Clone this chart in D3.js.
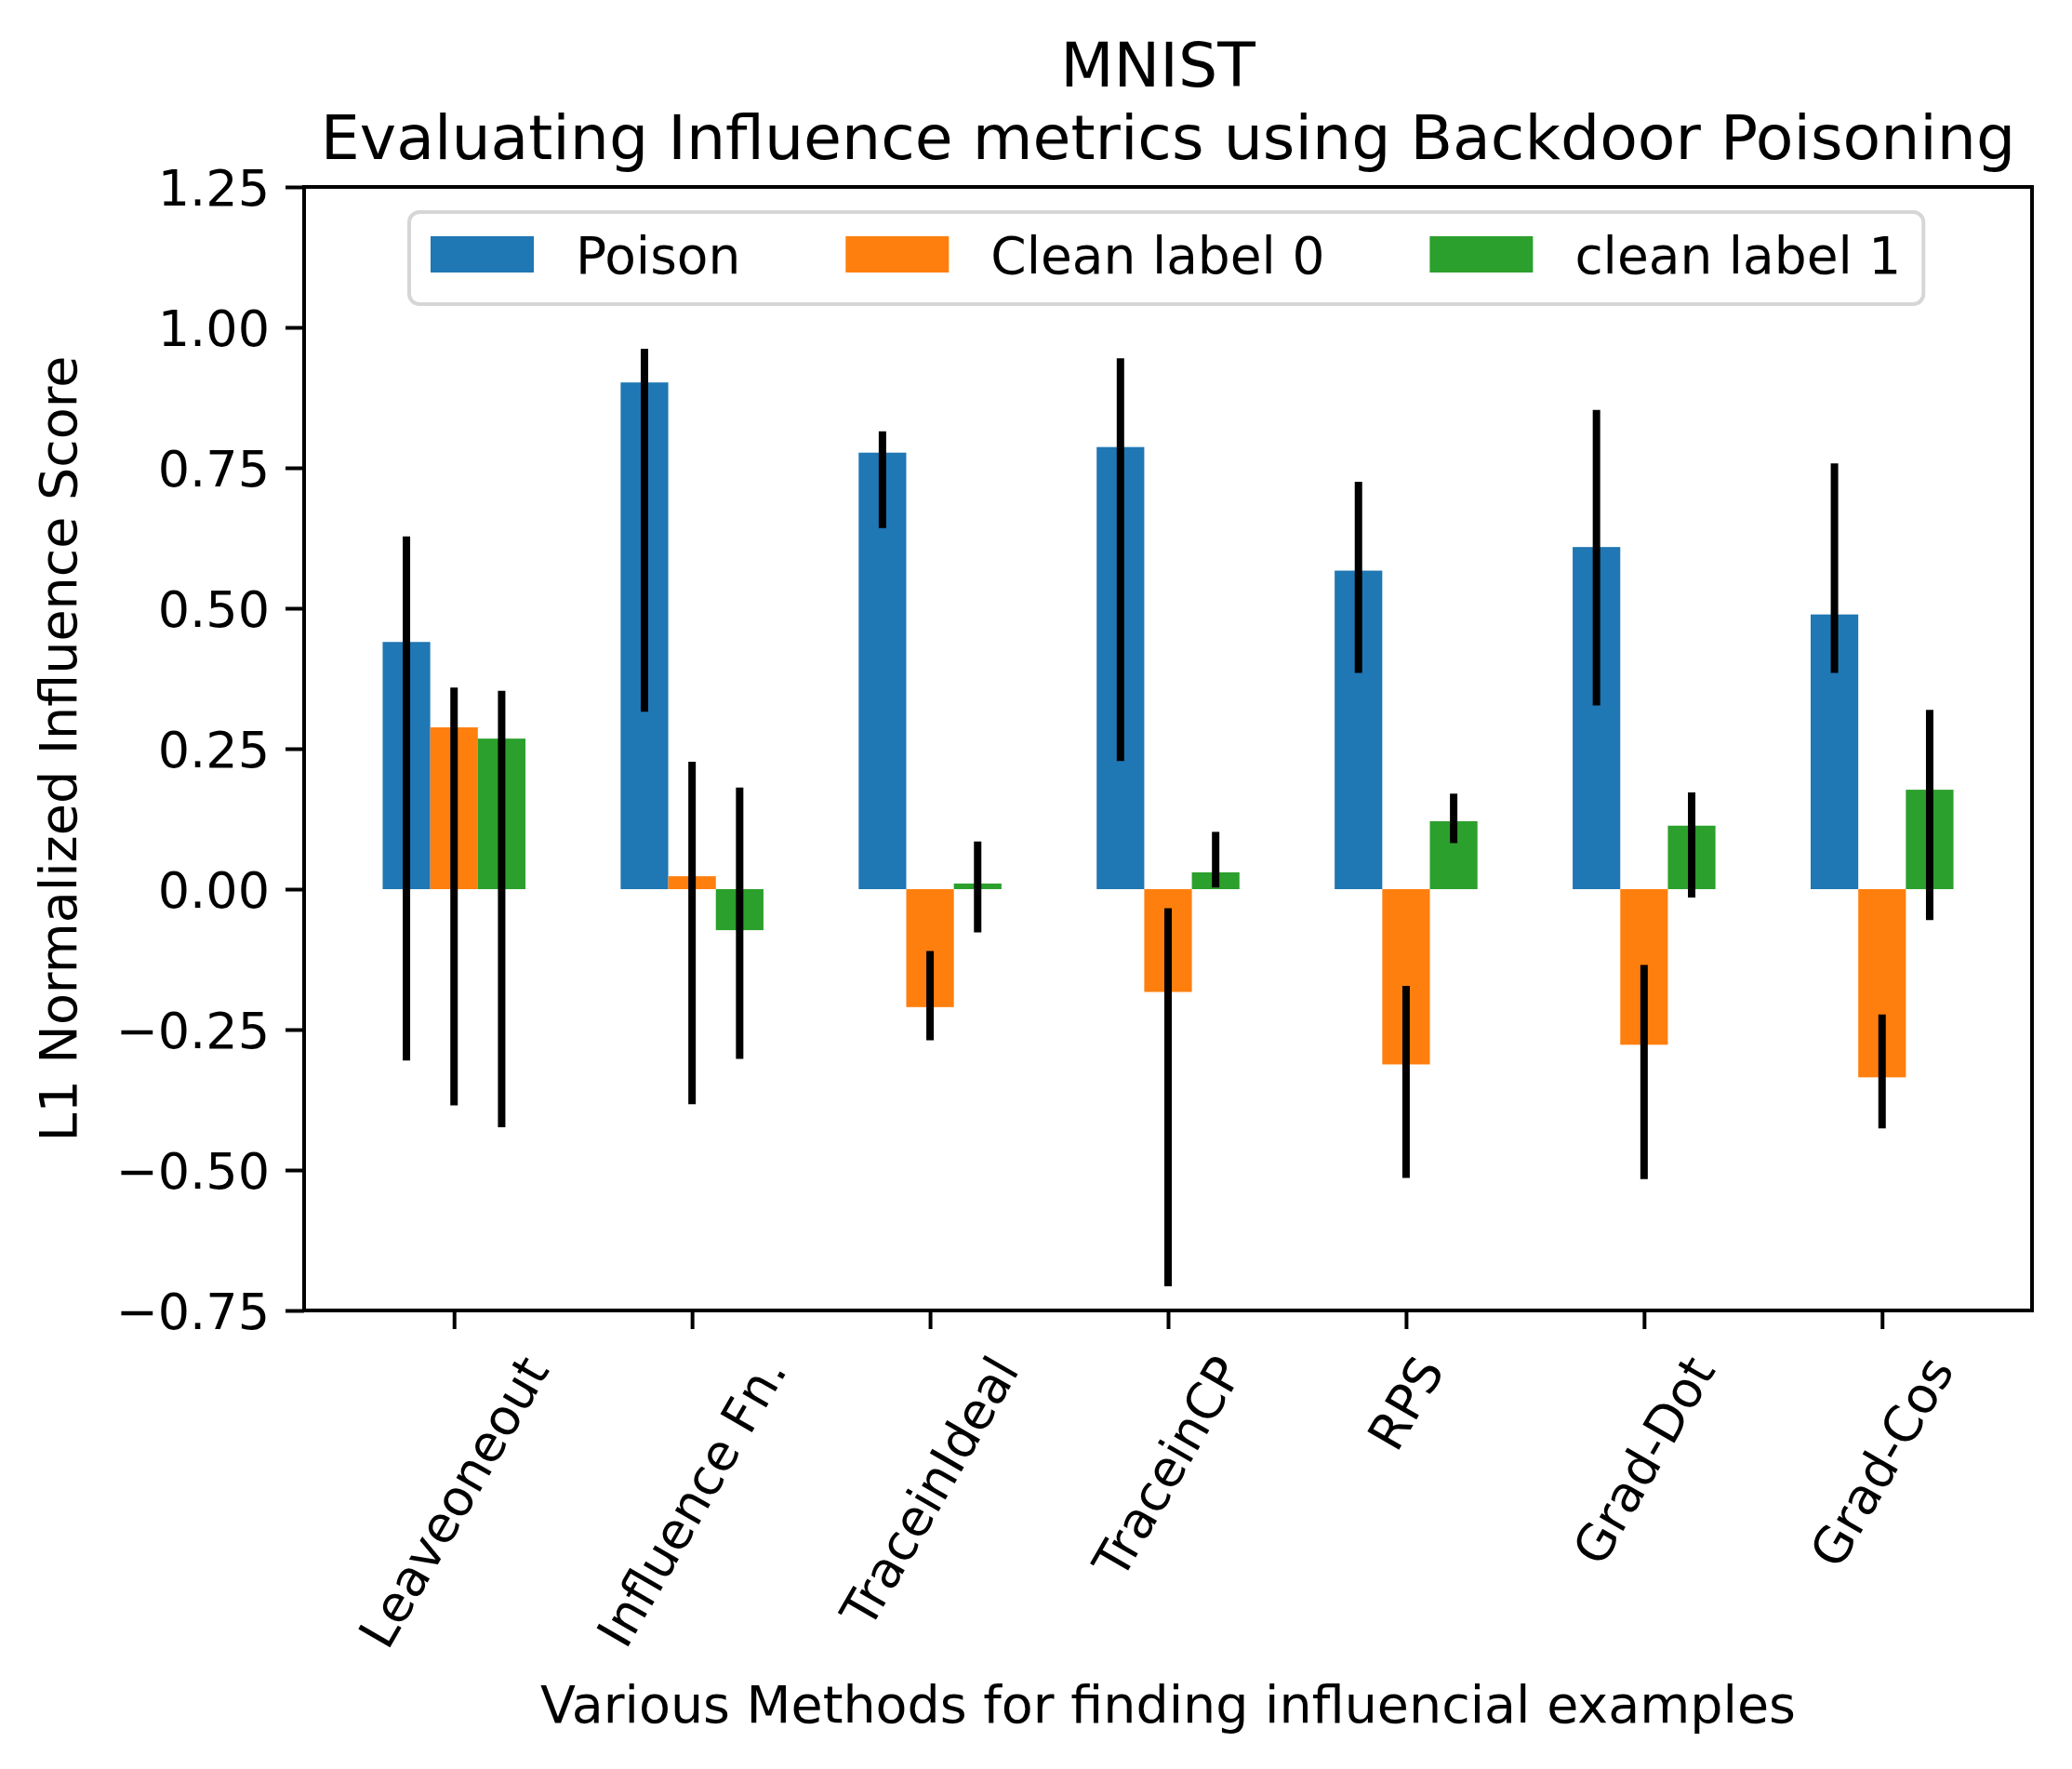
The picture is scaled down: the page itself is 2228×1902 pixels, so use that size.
<!DOCTYPE html>
<html>
<head>
<meta charset="utf-8">
<script src="https://d3js.org/d3.v7.min.js"></script>
<style>
  body { margin: 0; background: #fff; }
  svg { display: block; font-family: "DejaVu Sans", sans-serif; }
</style>
</head>
<body>
<svg width="2228" height="1902"></svg>
<script>
// Data
var methods = ["Leaveoneout", "Influence Fn.", "TraceinIdeal", "TraceinCP", "RPS", "Grad-Dot", "Grad-Cos"];
var seriesNames = ["Poison", "Clean label 0", "clean label 1"];

var poison = [0.440, 0.902, 0.777, 0.787, 0.567, 0.609, 0.489];
var clean0 = [0.288, 0.023, -0.210, -0.183, -0.312, -0.277, -0.335];
var clean1 = [0.268, -0.073, 0.010, 0.030, 0.121, 0.113, 0.177];

// error bar ends (low / high)
var poisonLo = [-0.305, 0.316, 0.643, 0.228, 0.385, 0.327, 0.385];
var poisonHi = [0.628, 0.962, 0.815, 0.945, 0.725, 0.853, 0.758];
var clean0Lo = [-0.385, -0.383, -0.269, -0.707, -0.514, -0.516, -0.426];
var clean0Hi = [0.359, 0.227, -0.110, -0.034, -0.172, -0.135, -0.223];
var clean1Lo = [-0.424, -0.302, -0.077, 0.003, 0.082, -0.015, -0.055];
var clean1Hi = [0.353, 0.181, 0.085, 0.102, 0.170, 0.172, 0.319];

var yTicks = [-0.75, -0.5, -0.25, 0, 0.25, 0.5, 0.75, 1.0, 1.25];

var series = [
    {name: seriesNames[0], values: poison, lo: poisonLo, hi: poisonHi, color: "#1f77b4", offset: -0.2},
    {name: seriesNames[1], values: clean0, lo: clean0Lo, hi: clean0Hi, color: "#ff7f0e", offset: 0},
    {name: seriesNames[2], values: clean1, lo: clean1Lo, hi: clean1Hi, color: "#2ca02c", offset: 0.2}
];

var svg = d3.select("svg");
// plot area (note: "top" is taken by window.top, so use other names)
var axLeft = 327, axRight = 2185, axTop = 201, axBottom = 1409;
var barW = 0.2;
var tickFont = 54, labelFont = 55.5, legendFont = 55, titleFont = 66.5;

// x is a linear scale over the category index, like matplotlib's bar positions
var x = d3.scaleLinear()
    .domain([-0.3 - 0.33, methods.length - 1 + 0.3 + 0.33])
    .range([axLeft, axRight]);
var y = d3.scaleLinear()
    .domain([-0.75, 1.25])
    .range([axBottom, axTop]);

// Bars
series.forEach(function(s) {
    svg.append("g").selectAll("rect")
        .data(s.values)
        .enter().append("rect")
        .attr("x", function(d, i) { return x(i + s.offset - barW / 2); })
        .attr("width", function(d, i) { return x(i + s.offset + barW / 2) - x(i + s.offset - barW / 2); })
        .attr("y", function(d) { return y(Math.max(0, d)); })
        .attr("height", function(d) { return Math.abs(y(d) - y(0)); })
        .attr("fill", s.color);
});

// Error bars
series.forEach(function(s) {
    svg.append("g").selectAll("line")
        .data(s.values)
        .enter().append("line")
        .attr("x1", function(d, i) { return x(i + s.offset); })
        .attr("x2", function(d, i) { return x(i + s.offset); })
        .attr("y1", function(d, i) { return y(s.lo[i]); })
        .attr("y2", function(d, i) { return y(s.hi[i]); })
        .attr("stroke", "#000")
        .attr("stroke-width", 8);
});

// Y axis
var yAxis = svg.append("g")
    .attr("transform", "translate(" + axLeft + ",0)")
    .call(d3.axisLeft(y)
        .tickValues(yTicks)
        .tickSize(20)
        .tickPadding(17)
        .tickFormat(function(d) { return d3.format(".2f")(d).replace("-", "\u2212"); }));
yAxis.select(".domain").remove();
yAxis.selectAll(".tick line").attr("stroke-width", 4);
yAxis.selectAll(".tick text")
    .attr("font-size", tickFont)
    .attr("font-family", "DejaVu Sans")
    .attr("fill", "#000")
    .attr("dy", "0.36em");

// X axis ticks
var xAxis = svg.append("g")
    .attr("transform", "translate(0," + axBottom + ")")
    .call(d3.axisBottom(x)
        .tickValues(d3.range(methods.length))
        .tickSize(20)
        .tickFormat(""));
xAxis.select(".domain").remove();
xAxis.selectAll(".tick line").attr("stroke-width", 4);

// Rotated x tick labels, bounding box centred under each tick
var labelTop = axBottom + 20 + 19;
var rad = Math.PI / 3;
methods.forEach(function(m, i) {
    var g = svg.append("g");
    var t = g.append("text")
        .attr("text-anchor", "middle")
        .attr("dominant-baseline", "central")
        .attr("font-size", tickFont)
        .attr("transform", "rotate(-60)")
        .text(m);
    var w = t.node().getComputedTextLength();
    var h = tickFont * 1.164;
    var bh = w * Math.sin(rad) + h * Math.cos(rad);
    g.attr("transform", "translate(" + x(i) + "," + (labelTop + bh / 2) + ")");
});

// Frame
svg.append("rect")
    .attr("x", axLeft).attr("y", axTop)
    .attr("width", axRight - axLeft).attr("height", axBottom - axTop)
    .attr("fill", "none")
    .attr("stroke", "#000")
    .attr("stroke-width", 4);

// Titles
var cx = (axLeft + axRight) / 2;
svg.append("text")
    .attr("x", cx - 11).attr("y", 93)
    .attr("text-anchor", "middle")
    .attr("font-size", titleFont)
    .text("MNIST");
svg.append("text")
    .attr("x", cx).attr("y", 171)
    .attr("text-anchor", "middle")
    .attr("font-size", titleFont)
    .text("Evaluating Influence metrics using Backdoor Poisoning");

svg.append("text")
    .attr("x", cx).attr("y", 1852)
    .attr("text-anchor", "middle")
    .attr("font-size", labelFont)
    .text("Various Methods for finding influencial examples");

svg.append("text")
    .attr("transform", "translate(82," + (axTop + axBottom) / 2 + ") rotate(-90)")
    .attr("text-anchor", "middle")
    .attr("font-size", labelFont)
    .text("L1 Normalized Influence Score");

// Legend
var legend = svg.append("g");
var box = legend.append("rect")
    .attr("fill", "#fff")
    .attr("stroke", "#d6d6d6")
    .attr("stroke-width", 4)
    .attr("rx", 11);
var lx = 463;
series.forEach(function(s) {
    legend.append("rect")
        .attr("x", lx).attr("y", 254)
        .attr("width", 111).attr("height", 39)
        .attr("fill", s.color);
    var t = legend.append("text")
        .attr("x", lx + 156).attr("y", 294)
        .attr("font-size", legendFont)
        .text(s.name);
    lx = lx + 156 + t.node().getComputedTextLength() + 113;
});
box.attr("x", 440).attr("y", 228)
    .attr("width", lx - 113 + 24 - 440)
    .attr("height", 99);
</script>
</body>
</html>
